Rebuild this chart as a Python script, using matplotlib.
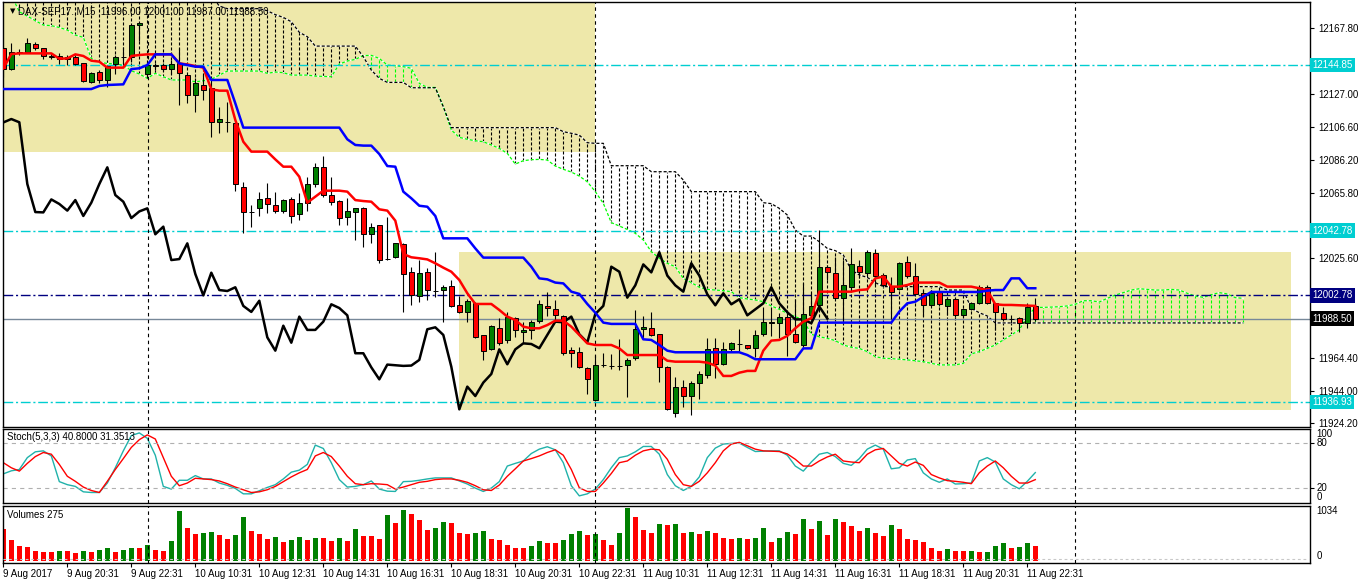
import numpy as np
import matplotlib.pyplot as plt
import matplotlib.transforms as mtransforms
from matplotlib.patches import Rectangle

plt.rcParams['font.family'] = ['Liberation Sans', 'DejaVu Sans']
plt.rcParams['lines.scale_dashes'] = False

# ---- candles (M15, 130 bars) ----
opens = [12155.2, 12142.2, 12152.7, 12152.7, 12157.7, 12155.2, 12150.5, 12150.7, 12148.4, 12149.6,
         12145.9, 12134.4, 12140.6, 12135.5, 12145.5, 12150.0, 12150.0, 12169.4, 12139.2, 12144.7,
         12144.7, 12142.2, 12145.9, 12138.5, 12126.2, 12132.8, 12130.5, 12109.5, 12109.8, 12108.9,
         12069.9, 12054.2, 12056.5, 12062.7, 12058.4, 12054.6, 12062.0, 12053.0, 12060.0, 12071.5,
         12081.8, 12064.7, 12060.8, 12050.9, 12054.2, 12056.5, 12040.5, 12046.0, 12025.0, 12026.3,
         12034.3, 12017.4, 12002.4, 12017.4, 12005.7, 12006.1, 12008.6, 11996.6, 11992.6, 11998.3,
         11978.2, 11969.5, 11982.9, 11975.3, 11989.1, 11980.0, 11981.5, 11987.2, 11996.3, 11994.2,
         11989.9, 11969.1, 11968.1, 11957.8, 11938.3, 11959.9, 11959.5, 11959.3, 11959.7, 11964.4,
         11981.9, 11982.5, 11978.8, 11958.8, 11930.5, 11946.5, 11940.7, 11948.6, 11953.7, 11970.2,
         11960.3, 11969.5, 11972.6, 11972.0, 11970.2, 11978.8, 11986.0, 11985.6, 11989.7, 11978.8,
         11972.2, 11990.7, 11996.7, 12020.5, 12016.8, 12001.0, 12008.2, 12021.1, 12016.8, 12028.7,
         12015.6, 12008.6, 12006.5, 12023.2, 12014.8, 12004.1, 11996.7, 12005.1, 11996.3, 12000.4,
         11990.5, 11994.6, 11998.3, 12007.8, 11997.9, 11991.7, 11988.2, 11989.1, 11985.6, 11996.0]
highs = [12156.2, 12158.3, 12154.6, 12161.4, 12159.3, 12155.5, 12152.1, 12152.1, 12151.1, 12151.1,
         12146.3, 12140.8, 12141.8, 12144.9, 12151.1, 12156.2, 12169.6, 12171.0, 12147.0, 12146.3,
         12145.9, 12148.0, 12155.2, 12138.7, 12136.7, 12138.7, 12135.7, 12119.2, 12122.3, 12109.5,
         12073.0, 12058.6, 12066.8, 12071.9, 12066.8, 12062.3, 12063.7, 12065.8, 12076.0, 12084.3,
         12088.8, 12075.6, 12061.6, 12062.7, 12056.5, 12057.5, 12047.2, 12046.0, 12051.4, 12034.9,
         12034.9, 12020.5, 12024.6, 12019.5, 12029.8, 12009.2, 12012.3, 12002.4, 12000.4, 11998.9,
         11978.2, 11984.6, 11988.7, 11992.8, 11989.7, 11986.6, 11987.6, 12000.0, 12005.1, 12000.0,
         11990.7, 11971.2, 11970.8, 11958.8, 11966.0, 11967.1, 11966.6, 11975.7, 11964.0, 11993.8,
         11990.1, 11992.8, 11978.8, 11959.2, 11952.7, 11950.6, 11950.2, 11956.4, 11976.3, 11976.7,
         11974.2, 11974.2, 11981.9, 11972.0, 11981.5, 11995.9, 11995.4, 11991.7, 11991.7, 12000.4,
         12010.2, 12004.1, 12043.1, 12021.5, 12026.7, 12024.6, 12031.8, 12024.6, 12030.8, 12031.2,
         12016.8, 12014.4, 12023.6, 12027.1, 12022.6, 12006.1, 12006.1, 12006.1, 12001.6, 12001.0,
         11994.8, 11998.9, 12009.2, 12009.2, 11998.3, 11995.9, 11990.7, 11989.7, 11998.3, 12001.0]
lows = [12137.7, 12141.8, 12151.1, 12152.1, 12154.2, 12148.4, 12148.4, 12145.5, 12144.9, 12144.9,
        12134.4, 12134.0, 12133.6, 12131.1, 12139.4, 12145.0, 12147.0, 12160.0, 12136.7, 12141.8,
        12141.4, 12139.4, 12120.2, 12121.3, 12116.1, 12123.3, 12100.7, 12103.2, 12103.8, 12067.4,
        12041.1, 12045.2, 12051.8, 12053.4, 12053.4, 12053.4, 12047.2, 12049.3, 12055.1, 12069.9,
        12063.7, 12058.8, 12046.0, 12046.2, 12037.0, 12032.9, 12034.9, 12022.6, 12024.6, 12025.7,
        11992.8, 11996.9, 11998.9, 12000.0, 12002.0, 11986.6, 11995.8, 11991.7, 11986.6, 11976.3,
        11963.0, 11969.1, 11972.2, 11973.2, 11977.3, 11973.2, 11975.7, 11986.0, 11990.1, 11987.6,
        11966.0, 11958.8, 11957.8, 11942.0, 11937.9, 11958.8, 11957.2, 11956.8, 11940.3, 11963.0,
        11976.3, 11977.7, 11949.6, 11932.1, 11928.0, 11934.2, 11929.1, 11938.7, 11952.1, 11952.1,
        11959.9, 11968.1, 11968.7, 11969.5, 11965.0, 11977.8, 11977.8, 11976.3, 11965.4, 11973.2,
        11971.2, 11987.6, 11993.8, 12012.3, 12001.0, 11985.6, 12006.1, 12013.3, 12014.4, 12009.0,
        12008.2, 11988.0, 12006.1, 12013.7, 12003.0, 11990.1, 11996.3, 11996.3, 11990.7, 11989.7,
        11989.7, 11993.8, 11997.5, 11997.3, 11981.5, 11987.2, 11986.0, 11980.5, 11982.5, 11987.0]
closes = [12142.4, 12152.7, 12152.5, 12158.3, 12155.2, 12150.5, 12150.0, 12148.8, 12149.6, 12145.3,
          12134.8, 12139.8, 12135.5, 12144.5, 12150.0, 12149.7, 12169.6, 12170.6, 12144.7, 12144.5,
          12142.2, 12145.3, 12139.8, 12126.2, 12133.6, 12129.3, 12109.5, 12111.6, 12109.6, 12071.5,
          12054.2, 12054.0, 12062.0, 12059.2, 12055.1, 12061.6, 12051.8, 12060.0, 12071.5, 12081.8,
          12064.7, 12060.6, 12050.5, 12054.6, 12056.5, 12040.5, 12045.2, 12024.6, 12025.2, 12034.9,
          12016.0, 12002.8, 12016.8, 12006.1, 12005.5, 12007.8, 11996.3, 11992.6, 11999.5, 11976.9,
          11968.7, 11984.1, 11973.6, 11989.7, 11981.5, 11981.5, 11986.6, 11997.3, 11995.0, 11990.5,
          11967.1, 11967.1, 11958.4, 11951.0, 11960.1, 11959.7, 11959.3, 11959.5, 11963.0, 11981.9,
          11983.1, 11978.4, 11958.8, 11932.5, 11946.5, 11940.7, 11949.0, 11954.3, 11969.5, 11960.3,
          11969.5, 11973.2, 11972.8, 11970.2, 11978.4, 11986.6, 11986.2, 11989.7, 11978.8, 11973.8,
          11991.3, 11996.3, 12020.5, 12017.4, 12001.4, 12009.0, 12021.9, 12017.0, 12029.4, 12015.0,
          12009.0, 12005.1, 12022.6, 12015.0, 12003.5, 11996.7, 12004.1, 11997.3, 12000.4, 11990.5,
          11994.2, 11997.9, 12007.8, 11997.9, 11992.4, 11988.0, 11988.0, 11985.6, 11995.9, 11988.5]

# ---- Ichimoku ----
tenkan = ([12142.9, 12151.7] + [12152.1] * 5 + [12148.8, 12149.0, 12151.5, 12150.5, 12147.6, 12147.0]
          + [12143.3] * 3 + [12150.5, 12151.1] + [12151.5] * 4 + [12145.9, 12145.3, 12144.3, 12143.3,
          12129.9, 12129.1, 12129.1, 12111.0, 12097.6] + [12091.5] * 3 + [12086.7, 12082.2, 12082.2,
          12076.0, 12060.0, 12063.7] + [12067.4] * 3 + [12066.8, 12061.6, 12061.0, 12060.6, 12055.9,
          12055.1, 12048.9, 12028.3, 12026.3, 12025.7, 12025.0, 12022.6, 12019.9, 12017.4, 12012.3,
          12004.1] + [11997.5] * 3 + [11993.8, 11989.7, 11987.6, 11983.5, 11982.5, 11982.5, 11984.5,
          11987.2, 11987.2, 11983.5, 11978.4, 11973.2] + [11972.2] * 3 + [11970.1] + [11966.0] * 5
          + [11962.5] + [11961.9] * 4 + [11961.3, 11959.5, 11953.1, 11953.1, 11955.1, 11956.2, 11956.2,
          11968.7, 11974.9, 11975.3, 11977.8, 11982.5, 11986.6, 11988.7] + [12005.1] * 5
          + [12006.1, 12006.5, 12013.3, 12014.4, 12008.2, 12008.2, 12009.2] + [12010.7] * 4
          + [12008.2] * 4 + [12007.2, 12006.1, 11997.3, 11996.9, 11996.9, 11996.7, 11996.5, 11996.3])
kijun = ([12130.1] * 12 + [12132.0, 12132.6, 12132.8, 12133.0, 12142.4, 12142.9, 12144.9]
         + [12151.5] * 3 + [12145.9, 12144.9, 12143.9, 12143.9] + [12135.7] * 3 + [12121.3]
         + [12106.3] * 13 + [12099.1, 12095.6, 12095.2, 12095.2, 12090.0, 12082.6, 12082.2, 12066.8,
         12062.7, 12058.1, 12057.5, 12051.8] + [12038.0] * 4 + [12031.8] + [12026.1] * 6
         + [12020.5, 12013.3, 12012.7, 12010.7, 12010.2, 12005.1, 12003.7, 11997.5, 11992.1, 11986.0]
         + [11985.2] * 4 + [11975.7, 11975.3, 11972.2, 11968.7] + [11967.7] * 9 + [11966.0]
         + [11963.4] * 6 + [11970.1] * 2 + [11986.0] * 10 + [11992.8, 11997.9, 11998.9, 12002.0]
         + [12004.9] * 7 + [12005.7, 12006.1, 12006.1, 12013.3, 12013.3, 12007.2, 12007.2])
span_a = [12190.0, 12188.0, 12177.8, 12175.1, 12172.3, 12169.6, 12169.2, 12168.1, 12166.5, 12163.4,
          12162.0, 12149.0, 12146.6, 12145.9, 12145.5, 12144.9, 12141.4, 12139.4, 12136.7, 12139.8,
          12137.7, 12135.7, 12135.7, 12135.7, 12134.6, 12135.2, 12136.1, 12138.7, 12141.2, 12141.2,
          12141.2, 12141.2, 12141.2, 12139.8, 12140.6, 12140.2, 12138.7, 12138.7, 12138.7, 12138.1,
          12137.9, 12137.7, 12145.5, 12147.4, 12148.4, 12150.7, 12150.9, 12149.0, 12144.9, 12144.5,
          12143.9, 12142.9, 12133.6, 12131.1, 12131.1, 12119.2, 12104.8, 12100.3, 12099.1, 12098.2,
          12097.6, 12095.6, 12093.5, 12090.4, 12083.8, 12085.9, 12086.5, 12086.7, 12086.3, 12082.6,
          12080.6, 12078.9, 12076.4, 12072.9, 12066.8, 12059.6, 12047.7, 12045.6, 12043.5, 12041.1,
          12037.0, 12029.8, 12025.7, 12022.6, 12020.5, 12013.3, 12010.7, 12007.8, 12006.5, 12006.1,
          12005.7, 12005.1, 12001.4, 12000.6, 12000.0, 11998.9, 11996.3, 11994.2, 11991.7, 11989.7,
          11987.6, 11978.8, 11977.3, 11976.3, 11974.9, 11972.2, 11970.8, 11970.1, 11968.1, 11965.0,
          11964.0, 11963.8, 11963.4, 11963.0, 11962.5, 11961.9, 11960.9, 11959.9, 11959.9, 11959.9,
          11960.9, 11966.7, 11968.1, 11970.1, 11972.2, 11975.3, 11978.4, 11981.5, 11989.7, 11995.4,
          11995.4, 11995.6, 11995.8, 11996.3, 11997.3, 11999.5, 11999.5, 11998.7, 12001.0, 12003.0,
          12004.5, 12006.1, 12006.9, 12006.5, 12006.1, 12006.1, 12006.5, 12006.1, 12004.1, 12002.4,
          12001.6, 12003.2, 12004.5, 12003.7, 12001.4, 12001.0]
span_b = ([12188.0] * 27 + [12181.3] + [12179.7] * 5 + [12178.4, 12176.0, 12174.3, 12171.6, 12165.1,
          12162.4] + [12156.6] * 6 + [12150.0, 12141.8, 12136.7] + [12134.2] * 3 + [12130.9] * 4
          + [12119.2] + [12106.3] * 14 + [12103.8, 12102.8, 12101.7, 12097.0, 12096.6, 12096.6]
          + [12082.8] * 5 + [12079.1] * 4 + [12074.0] + [12066.8] * 9 + [12060.0, 12059.4, 12056.5,
          12052.4, 12043.1, 12039.4, 12039.4, 12035.9, 12031.8, 12030.4, 12027.7, 12018.5, 12015.4,
          12013.9, 12010.7] + [12008.2] * 8 + [12006.1] * 3 + [11994.8, 11992.1, 11990.1]
          + [11985.8] * 32)

# ---- Stochastic (5,3,3) ----
stoch_k = [39.1, 43.2, 45.0, 60.9, 68.7, 70.0, 63.2, 28.7, 24.6, 22.3, 15.0, 14.1, 14.1, 26.8, 47.3,
           70.0, 90.5, 94.1, 86.8, 64.1, 22.3, 18.7, 30.5, 30.5, 36.8, 32.3, 32.3, 26.8, 23.7, 19.6,
           12.3, 12.3, 16.4, 20.9, 24.6, 32.3, 41.4, 44.1, 51.8, 77.7, 73.2, 54.1, 31.4, 21.4, 22.3,
           24.6, 29.6, 18.7, 15.9, 15.5, 28.7, 29.1, 30.5, 32.3, 33.7, 33.7, 33.7, 29.6, 25.5, 20.0,
           15.5, 20.0, 28.7, 49.6, 53.2, 56.4, 66.4, 72.3, 75.5, 71.4, 54.1, 23.2, 9.6, 12.3, 18.7,
           31.4, 47.3, 60.9, 63.2, 68.7, 75.9, 75.9, 65.5, 38.2, 23.2, 16.8, 22.3, 35.0, 60.9, 73.7,
           79.1, 80.0, 80.5, 74.6, 69.1, 69.6, 70.0, 70.0, 64.1, 49.6, 42.8, 55.0, 65.5, 67.8, 62.3,
           53.2, 50.5, 59.6, 72.3, 77.7, 72.3, 45.9, 47.3, 57.7, 59.6, 40.5, 32.3, 27.8, 32.3, 25.5,
           25.9, 26.8, 56.4, 60.9, 55.0, 32.3, 24.6, 19.1, 29.1, 40.8]
stoch_d = [54.1, 47.3, 42.8, 53.2, 62.3, 67.8, 65.5, 51.8, 35.9, 29.1, 21.4, 16.8, 14.1, 29.1, 45.0,
           59.6, 74.6, 85.0, 91.4, 85.9, 60.9, 35.9, 23.2, 26.8, 33.2, 32.3, 31.4, 29.6, 25.9, 21.4,
           17.8, 14.1, 15.0, 17.8, 22.3, 28.7, 35.0, 40.5, 45.0, 63.2, 67.8, 62.3, 49.6, 35.9, 25.9,
           24.6, 25.9, 25.5, 24.6, 18.7, 21.4, 24.6, 27.8, 29.1, 31.4, 32.3, 32.3, 30.5, 27.8, 23.2,
           17.8, 16.8, 24.1, 35.9, 45.9, 56.4, 59.6, 63.2, 67.8, 71.4, 64.1, 45.0, 20.5, 15.5, 15.5,
           26.8, 39.6, 54.1, 56.4, 64.1, 70.0, 72.3, 71.4, 58.7, 38.2, 24.6, 22.3, 29.1, 40.5, 54.1,
           70.0, 79.1, 81.4, 76.8, 72.3, 70.0, 69.6, 69.1, 65.9, 58.7, 49.6, 49.6, 56.4, 61.8, 65.5,
           56.4, 55.0, 54.1, 65.5, 71.4, 73.2, 63.2, 53.2, 49.6, 55.0, 50.5, 38.2, 33.7, 30.0, 29.1,
           27.8, 25.9, 40.5, 49.6, 56.4, 47.3, 35.9, 26.8, 26.8, 31.35]

# ---- Volumes ----
volumes = [589, 394, 287, 269, 198, 162, 162, 198, 180, 145, 198, 162, 216, 251, 162, 216, 251, 245,
           305, 216, 180, 376, 910, 607, 500, 512, 536, 483, 412, 483, 803, 554, 500, 412, 447, 358,
           394, 447, 394, 429, 423, 376, 429, 376, 589, 465, 459, 412, 839, 696, 927, 856, 750, 572,
           607, 714, 696, 518, 500, 512, 554, 412, 394, 305, 251, 245, 287, 376, 340, 334, 394, 500,
           554, 483, 500, 394, 305, 518, 963, 803, 572, 518, 678, 661, 678, 518, 536, 500, 554, 518,
           429, 412, 429, 412, 417, 607, 358, 429, 536, 500, 767, 589, 732, 483, 767, 714, 643, 554,
           607, 518, 465, 661, 589, 412, 394, 358, 251, 198, 234, 198, 192, 198, 162, 174, 287, 340,
           251, 269, 340, 275]

time_labels = ['9 Aug 2017', '9 Aug 20:31', '9 Aug 22:31', '10 Aug 10:31', '10 Aug 12:31',
               '10 Aug 14:31', '10 Aug 16:31', '10 Aug 18:31', '10 Aug 20:31', '10 Aug 22:31',
               '11 Aug 10:31', '11 Aug 12:31', '11 Aug 14:31', '11 Aug 16:31', '11 Aug 18:31',
               '11 Aug 20:31', '11 Aug 22:31']
price_ticks = [12167.80, 12127.00, 12106.60, 12086.20, 12065.80, 12025.60, 11964.40, 11944.00, 11924.20]
cyan_levels = [12144.85, 12042.78, 11936.93]
navy_level = 12002.78
bid = 11988.50
separators = [18.1, 73.96, 133.96]

W, H = 1358, 584
fig = plt.figure(figsize=(W / 100, H / 100), dpi=100)
left, width = 3 / W, 1307 / W
ax = fig.add_axes([left, 1 - 427 / H, width, 425 / H])
ax_st = fig.add_axes([left, 1 - 503 / H, width, 74.5 / H])
ax_vol = fig.add_axes([left, 1 - 562.5 / H, width, 57 / H])

x = np.arange(len(closes))
xc = np.arange(len(span_a))
xlim = (-0.04, 163.34)

GREEN, RED = '#008000', '#FF0000'
CYAN = '#00CED1'
dot = (0, (2.2, 1.4))

# ---------------- main chart ----------------
ax.add_patch(Rectangle((-1, 12091.2), 74.96, 120, facecolor='#EEE8AA', edgecolor='none', zorder=0.2))
ax.add_patch(Rectangle((56.96, 11932.1), 104.0, 97.5, facecolor='#EEE8AA', edgecolor='none', zorder=0.2))

sa, sb = np.array(span_a), np.array(span_b)
hatch_col = np.where(sb >= sa, 'black', '#00FF00')
ax.vlines(xc, np.minimum(sa, sb), np.maximum(sa, sb), colors=hatch_col, linestyles=dot, lw=0.8, zorder=1)
for s, c in ((span_a, '#00FF00'), (span_b, 'black')):
    ax.plot(xc, s, color='white', lw=0.9, zorder=1.1)
    ax.plot(xc, s, color=c, lw=0.9, ls=dot, zorder=1.2)

for lv in cyan_levels:
    ax.axhline(lv, color=CYAN, lw=1.0, ls=(0, (7, 2, 1.5, 2)), zorder=1.5)
ax.axhline(navy_level, color='#000080', lw=1.0, ls=(0, (7, 2, 1.5, 2)), zorder=1.5)
ax.axhline(bid, color='#778899', lw=1.0, zorder=1.5)
for s in separators:
    ax.axvline(s, color='black', lw=0.8, ls=(0, (2.5, 2.5)), zorder=1.5)

# lagging line: closes drawn 26 bars back
ax.plot(x[:len(closes) - 26], closes[26:], color='black', lw=1.8, zorder=2)

o, h, l, c = map(np.array, (opens, highs, lows, closes))
ax.vlines(x, l, h, color='black', lw=0.8, zorder=3)
body_col = np.where(c > o, GREEN, RED)
ax.bar(x, np.maximum(np.abs(c - o), 0.15), bottom=np.minimum(o, c), width=0.6,
       color=body_col, edgecolor='black', lw=0.7, zorder=3.1)

ax.plot(x, tenkan, color=RED, lw=1.8, zorder=4)
ax.plot(x, kijun, color='#0000FF', lw=1.8, zorder=4)

ax.set_xlim(*xlim)
ax.set_ylim(11921.6, 12183.8)
ax.set_xticks([])
ax.yaxis.tick_right()
ax.set_yticks(price_ticks)
ax.set_yticklabels(['%.2f' % t for t in price_ticks])
ax.tick_params(axis='y', length=3, pad=3, labelsize=7, colors='black')

tr = mtransforms.blended_transform_factory(ax.transAxes, ax.transData)
def price_box(val, fc):
    ax.text(1.0018, val, '%.2f' % val, transform=tr, ha='left', va='center', fontsize=7,
            color='white', zorder=10, clip_on=False,
            bbox=dict(boxstyle='square,pad=0.22', facecolor=fc, edgecolor='none'))
for lv in cyan_levels:
    price_box(lv, CYAN)
price_box(navy_level, '#000080')
price_box(bid, 'black')

ax.text(0.0055, 0.978, '\u25bc', transform=ax.transAxes, fontsize=5, va='center', ha='left',
        family=['DejaVu Sans'])
ax.text(0.0115, 0.978, 'DAX-SEP17.,M15  11996.00 12001.00 11987.00 11988.50', transform=ax.transAxes,
        fontsize=7, va='center', ha='left', color='black', zorder=10)

# ---------------- stochastic ----------------
ax_st.plot(x, stoch_k, color='#20B2AA', lw=1.0)
ax_st.plot(x, stoch_d, color=RED, lw=1.0)
for lv in (20, 80):
    ax_st.axhline(lv, color='#B0B0B0', lw=0.8, ls=(0, (3, 3)))
for s in separators:
    ax_st.axvline(s, color='black', lw=0.8, ls=(0, (2.5, 2.5)))
ax_st.set_xlim(*xlim)
ax_st.set_ylim(0, 100)
ax_st.set_xticks([])
ax_st.yaxis.tick_right()
ax_st.set_yticks([20, 80])
ax_st.set_yticklabels([])
ax_st.tick_params(axis='y', length=3)
ttr = mtransforms.blended_transform_factory(ax_st.transAxes, ax_st.transData)
ax_st.text(1.005, 99, '100', transform=ttr, fontsize=7, va='top', ha='left')
ax_st.text(1.005, 80, '80', transform=ttr, fontsize=7, va='center', ha='left')
ax_st.text(1.005, 20, '20', transform=ttr, fontsize=7, va='center', ha='left')
ax_st.text(1.005, 2, '0', transform=ttr, fontsize=7, va='bottom', ha='left')
ax_st.text(0.003, 0.89, 'Stoch(5,3,3) 40.8000 31.3513', transform=ax_st.transAxes, fontsize=7,
           va='center', ha='left')

# ---------------- volumes ----------------
v = np.array(volumes)
vol_col = [RED] + [GREEN if v[i] > v[i - 1] else RED for i in range(1, len(v))]
ax_vol.bar(x, v, width=0.65, color=vol_col, zorder=2)
ax_vol.axhline(40, color='#C8C8C8', lw=0.8, ls=(0, (2, 2)), zorder=3)
for s in separators:
    ax_vol.axvline(s, color='black', lw=0.8, ls=(0, (2.5, 2.5)))
ax_vol.set_xlim(*xlim)
ax_vol.set_ylim(-20, 1016)
ax_vol.set_yticks([])
vtr = mtransforms.blended_transform_factory(ax_vol.transAxes, ax_vol.transData)
ax_vol.text(1.005, 1010, '1034', transform=vtr, fontsize=7, va='top', ha='left')
ax_vol.text(1.005, 5, '0', transform=vtr, fontsize=7, va='bottom', ha='left')
ax_vol.text(0.003, 0.84, 'Volumes 275', transform=ax_vol.transAxes, fontsize=7, va='center', ha='left')
ax_vol.set_xticks(np.arange(0, 129, 8))
ax_vol.set_xticklabels(time_labels, fontsize=7, ha='left')
ax_vol.tick_params(axis='x', length=3, pad=2)

for a in (ax, ax_st, ax_vol):
    for sp in a.spines.values():
        sp.set_color('black')
        sp.set_linewidth(1.0)

fig.savefig('out.png', dpi=100, facecolor='white')
